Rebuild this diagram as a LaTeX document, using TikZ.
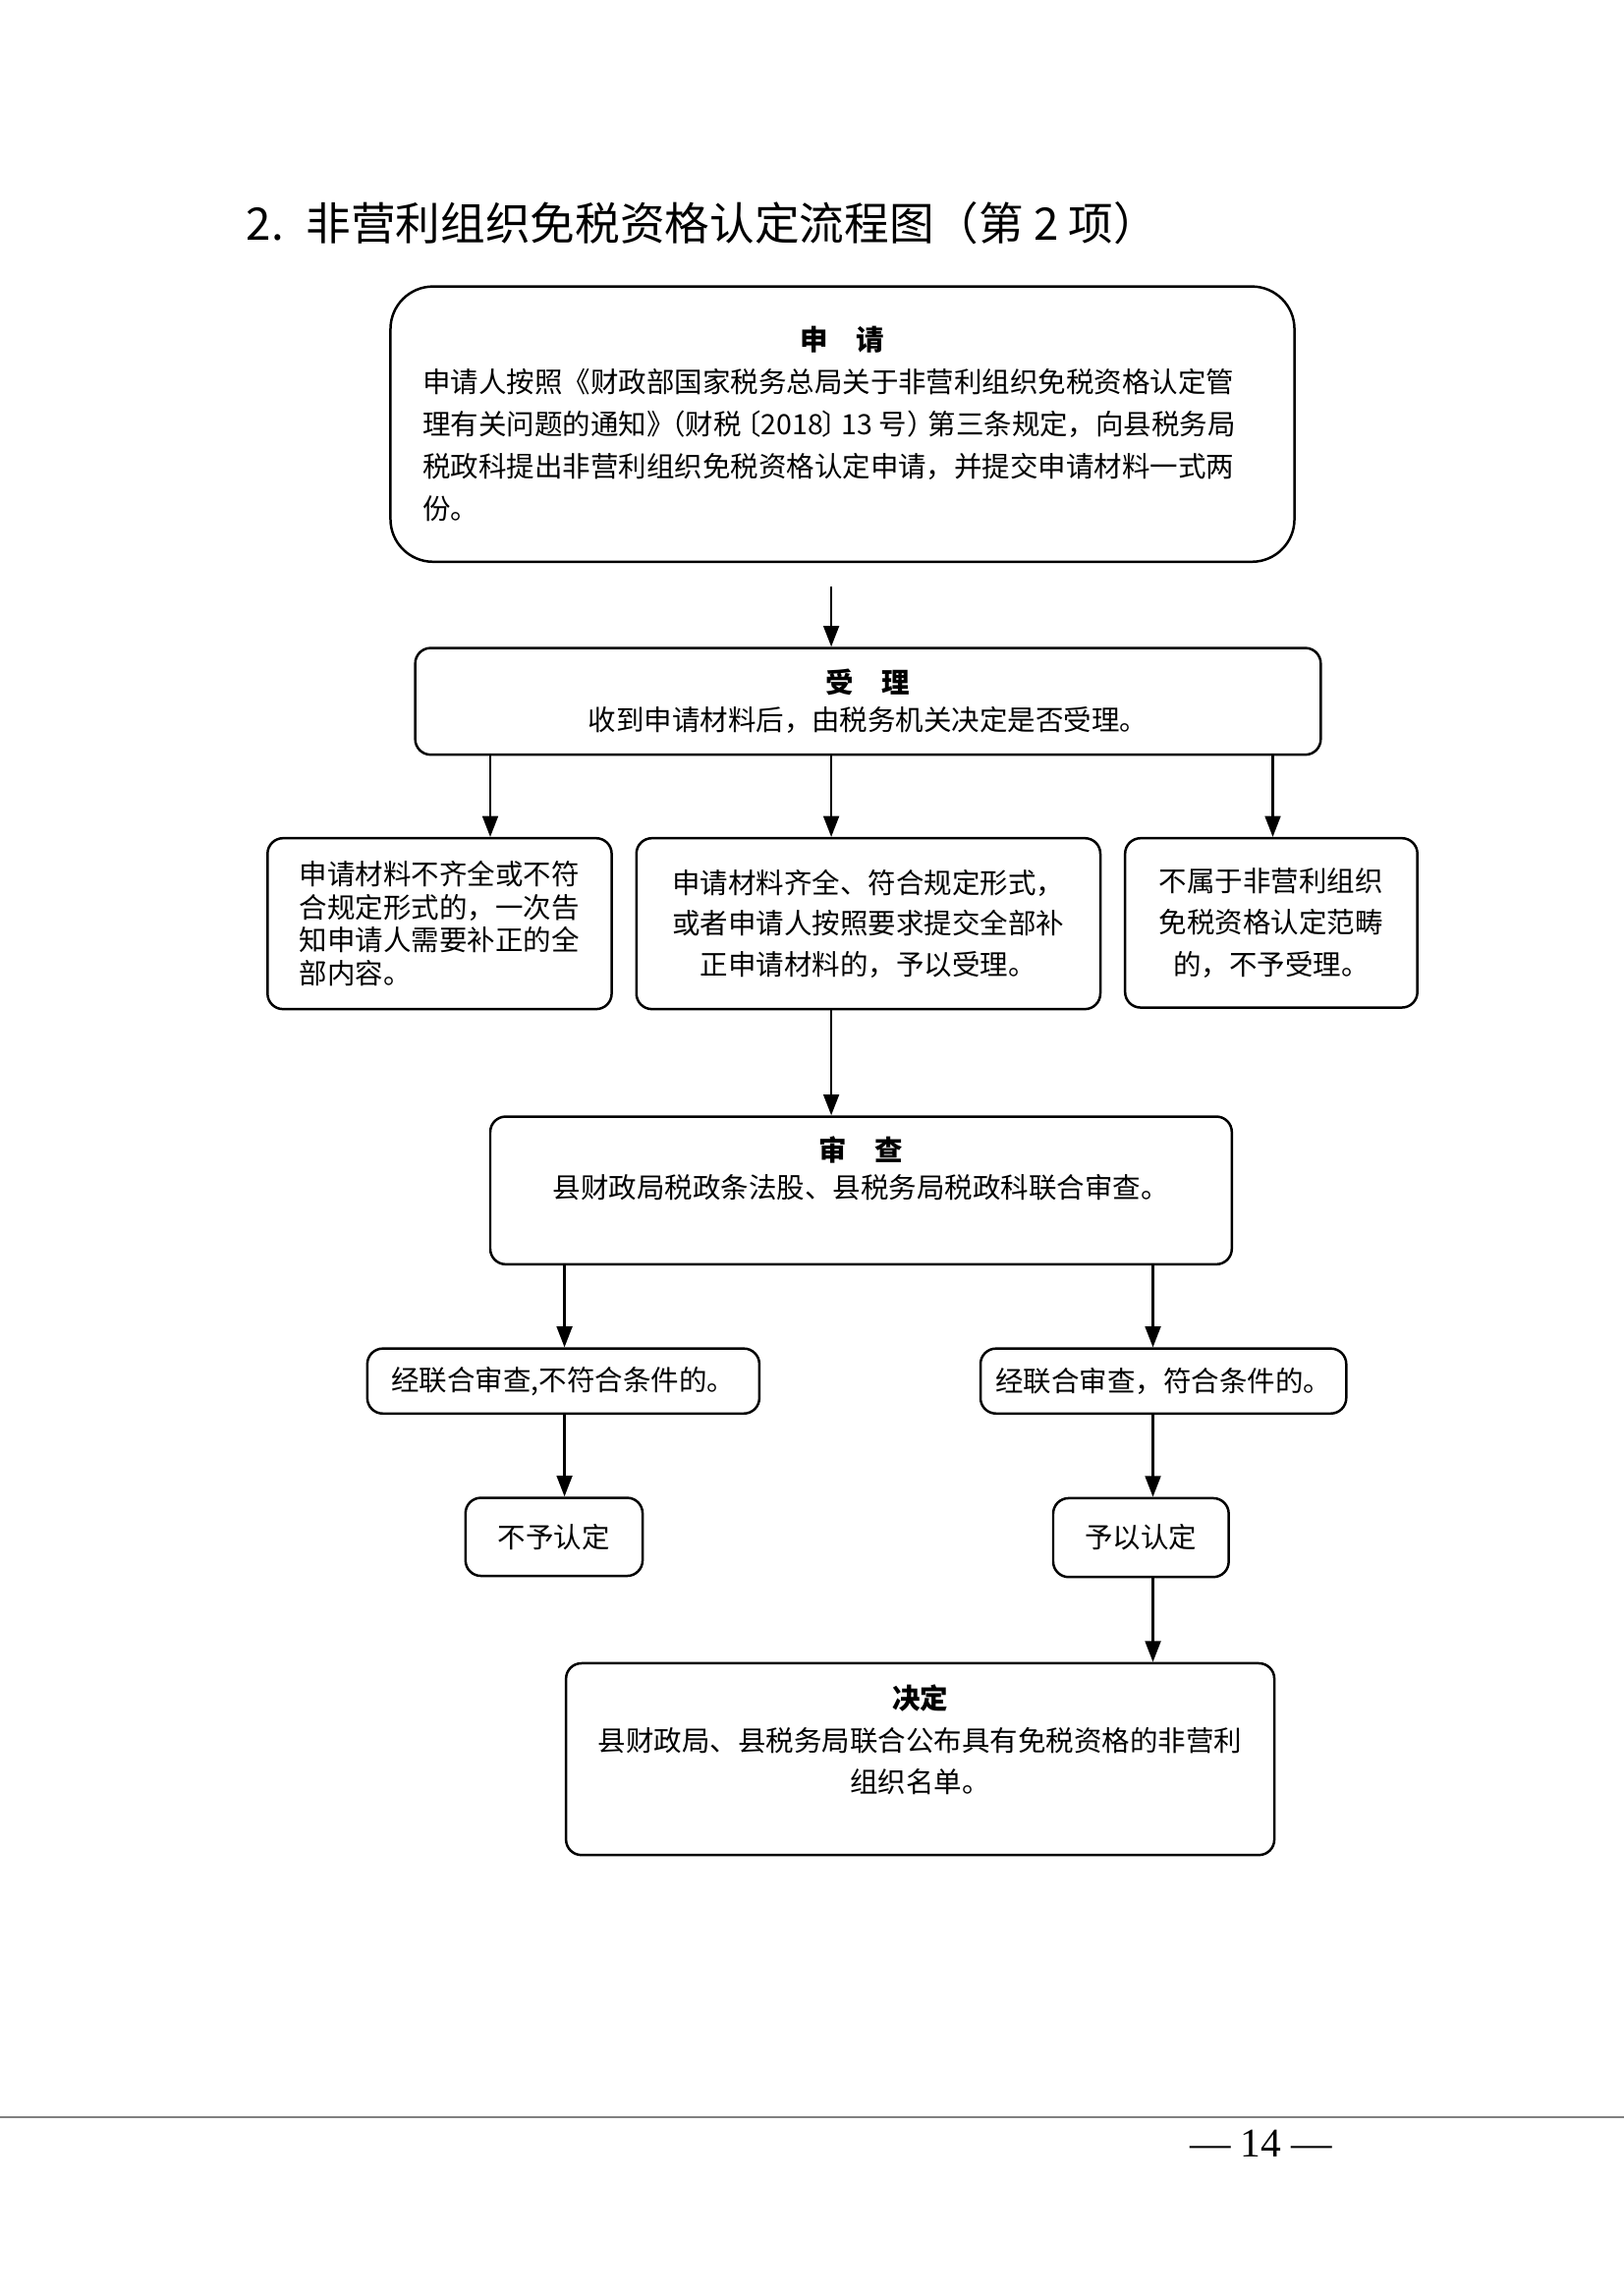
\documentclass[tikz,border=0pt]{standalone}
\usepackage{fontspec}
\setmainfont{Noto Sans CJK SC}
\newfontfamily\pagefont{Liberation Serif}
\usetikzlibrary{arrows.meta}

\begin{document}
\begin{tikzpicture}[stepbox/.style = {draw, line width=0.9pt, rounded corners=2mm, inner sep=0pt, align=center, font=\fontsize{10.3pt}{15.5pt}\selectfont},
        arr/.style = {-{Triangle[length=2.7mm,width=2mm]}, line width=0.9pt}]
        \useasboundingbox (0,0) rectangle (21,-29.68);
        % title
        \node[anchor=west, inner sep=0pt, font=\fontsize{16.5pt}{20pt}\selectfont] (title) at (3.18,-2.88) {2.\enspace 非营利组织免税资格认定流程图（第 2 项）};
        % boxes
        \node[stepbox, rounded corners=5.5mm, minimum width=11.69cm, minimum height=3.56cm, align=left] (shenqing) at (10.895,-5.485)
            {\makebox[30em]{\textbf{申\quad 请}}\\
             申请人按照《财政部国家税务总局关于非营利组织免税资格认定管\\
             理有关问题的通知》\kern-.6em（财税\kern-.3em〔2018\kern-.05em〕\kern-.3em13 号）\kern-.25em 第三条规定，向县税务局\\
             税政科提出非营利组织免税资格认定申请，并提交申请材料一式两\\
             份。};
        \node[stepbox, minimum width=11.71cm, minimum height=1.38cm, font=\fontsize{10.3pt}{13.5pt}\selectfont] (shouli) at (11.225,-9.07)
            {\textbf{受\quad 理}\\收到申请材料后，由税务机关决定是否受理。};
        \node[stepbox, minimum width=4.45cm, minimum height=2.21cm, align=left, font=\fontsize{10.3pt}{12.2pt}\selectfont] (buqi) at (5.685,-11.945)
            {申请材料不齐全或不符\\合规定形式的，一次告\\知申请人需要补正的全\\部内容。};
        \node[stepbox, minimum width=6.0cm, minimum height=2.21cm, font=\fontsize{10.3pt}{15pt}\selectfont] (qiquan) at (11.23,-11.945)
            {申请材料齐全、符合规定形式，\\或者申请人按照要求提交全部补\\正申请材料的，予以受理。};
        \node[stepbox, minimum width=3.78cm, minimum height=2.19cm, font=\fontsize{10.3pt}{15.3pt}\selectfont] (bushu) at (16.44,-11.935)
            {不属于非营利组织\\免税资格认定范畴\\的，不予受理。};
        \node[stepbox, minimum width=9.59cm, minimum height=1.91cm, font=\fontsize{10.3pt}{13.5pt}\selectfont] (shencha) at (11.135,-15.395)
            {\textbf{审\quad 查}\\县财政局税政条法股、县税务局税政科联合审查。\rule[-6mm]{0pt}{6mm}};
        \node[stepbox, minimum width=5.07cm, minimum height=0.84cm] (fail) at (7.285,-17.86) {经联合审查,不符合条件的。};
        \node[stepbox, minimum width=4.73cm, minimum height=0.84cm] (pass) at (15.045,-17.86) {经联合审查，符合条件的。};
        \node[stepbox, minimum width=2.29cm, minimum height=1.01cm] (no) at (7.165,-19.875) {不予认定};
        \node[stepbox, minimum width=2.27cm, minimum height=1.02cm] (yes) at (14.755,-19.885) {予以认定};
        \node[stepbox, minimum width=9.16cm, minimum height=2.48cm] (jueding) at (11.9,-22.75)
            {\textbf{决定}\\县财政局、县税务局联合公布具有免税资格的非营利\\组织名单。\rule[-5.3mm]{0pt}{5.3mm}};
        % arrow columns
        \coordinate (cmid) at (10.75,0);
        \coordinate (cleft) at (6.34,0);
        \coordinate (cright) at (16.46,0);
        \coordinate (cno) at (7.30,0);
        \coordinate (cyes) at (14.91,0);
        \draw[arr] (shenqing.south -| cmid) ++(0,-0.31) -- (shouli.north -| cmid);
        \draw[arr] (shouli.south -| cleft) -- (buqi.north -| cleft);
        \draw[arr] (shouli.south -| cmid) -- (qiquan.north -| cmid);
        \draw[arr] (shouli.south -| cright) -- (bushu.north -| cright);
        \draw[arr] (qiquan.south -| cmid) -- (shencha.north -| cmid);
        \draw[arr] (shencha.south -| cno) -- (fail.north -| cno);
        \draw[arr] (shencha.south -| cyes) -- (pass.north -| cyes);
        \draw[arr] (fail.south -| cno) -- (no.north -| cno);
        \draw[arr] (pass.south -| cyes) -- (yes.north -| cyes);
        \draw[arr] (yes.south -| cyes) -- (jueding.north -| cyes);
        % footer
        \draw[gray, line width=0.6pt] (0,-27.38) -- (21,-27.38);
        \node[font=\pagefont\fontsize{15pt}{18pt}\selectfont] (page) at (16.31,-27.72) {— 14 —};
        \end{tikzpicture}
\end{document}
